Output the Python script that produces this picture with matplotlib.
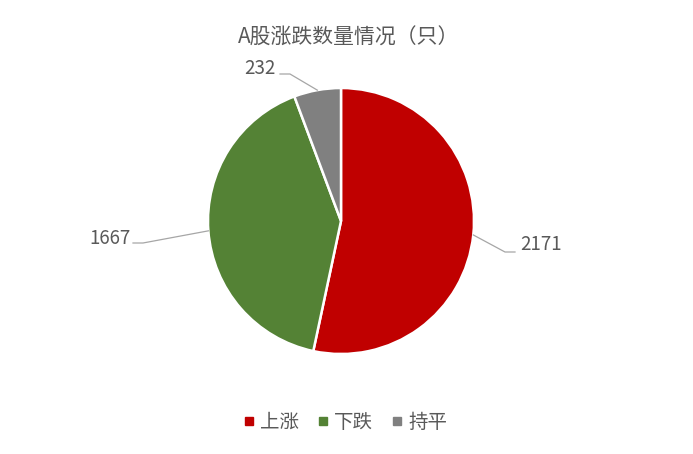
import numpy as np
import matplotlib.pyplot as plt
from matplotlib.lines import Line2D

plt.rcParams['font.family'] = ['Noto Sans CJK SC', 'DejaVu Sans']

TITLE = 'A股涨跌数量情况（只）'
labels = ['上涨', '下跌', '持平']
values = [2171, 1667, 232]
colors = ['#C00000', '#548235', '#808080']
TEXT_C = '#595959'

W, H = 693, 454
CX, CY, R = 341, H - 221, 133

fig = plt.figure(figsize=(W / 100, H / 100), dpi=100)
ax = fig.add_axes([0, 0, 1, 1])
ax.set_xlim(0, W)
ax.set_ylim(0, H)
ax.axis('off')

wedges, _ = ax.pie(values, colors=colors, startangle=90, counterclock=False,
                   center=(CX, CY), radius=R,
                   wedgeprops=dict(edgecolor='white', linewidth=1.8))
ax.set_xlim(0, W)
ax.set_ylim(0, H)
ax.set_aspect('equal')

# label placement: text pos, ha, elbow, line end (pixel coords from top)
label_layout = [
    dict(txt=(520, 244), ha='left', elbow=(505, 252), end=(515, 252)),
    dict(txt=(131, 238), ha='right', elbow=(143, 243), end=(133, 243)),
    dict(txt=(276, 69), ha='right', elbow=(290, 74), end=(280, 74)),
]

for w, v, lay in zip(wedges, values, label_layout):
    ang = np.deg2rad((w.theta1 + w.theta2) / 2)
    px = CX + R * np.cos(ang)
    py = CY + R * np.sin(ang)
    ex, ey = lay['elbow']
    nx, ny = lay['end']
    ax.plot([px, ex, nx], [py, H - ey, H - ny], color='#A6A6A6', lw=0.9)
    tx, ty = lay['txt']
    ax.text(tx, H - ty, str(v), ha=lay['ha'], va='center', fontsize=13.5,
            color=TEXT_C)

ax.text(CX + 8, H - 38, TITLE, ha='center', va='center', fontsize=15, color=TEXT_C)

handles = [Line2D([], [], marker='s', linestyle='none', markersize=6.3,
                  markerfacecolor=c, markeredgecolor=c) for c in colors]
ax.legend(handles, labels, loc='center', bbox_to_anchor=((CX + 4) / W, 1 - 422 / H),
          ncol=3, frameon=False, fontsize=14, labelcolor=TEXT_C,
          handlelength=0.6, handletextpad=0.3, columnspacing=0.9)

fig.savefig('out.png', dpi=100)
